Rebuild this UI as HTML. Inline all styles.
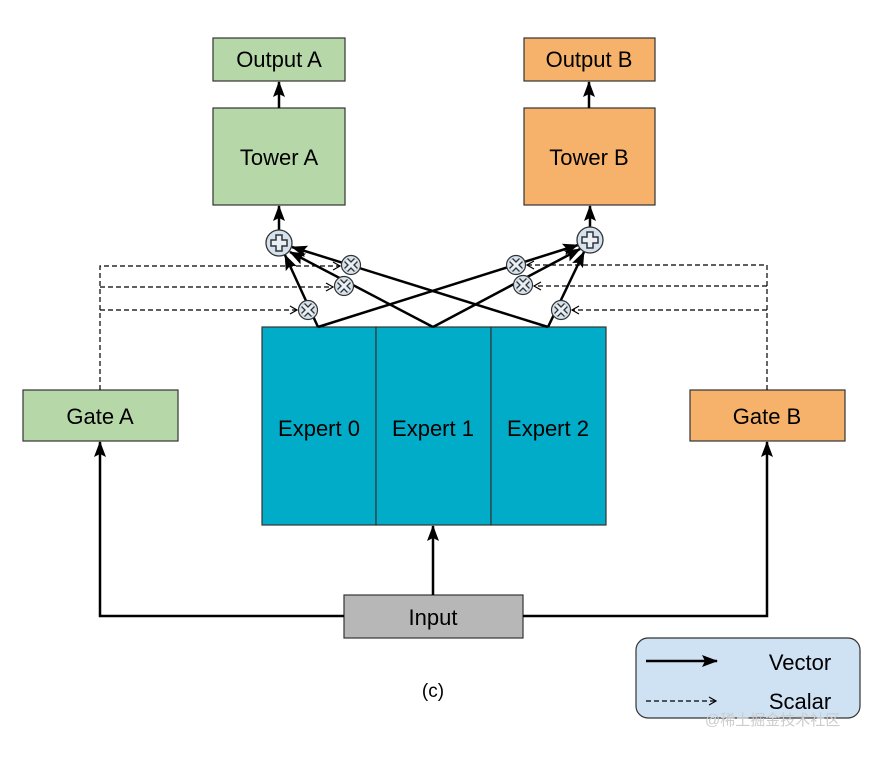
<!DOCTYPE html>
<html><head><style>body{margin:0;background:#fff}</style></head><body>
<svg width="886" height="752" viewBox="0 0 886 752" xmlns="http://www.w3.org/2000/svg" font-family="Liberation Sans, sans-serif">
<defs>
<marker id="a" markerWidth="16" markerHeight="12" refX="15" refY="6" orient="auto" markerUnits="userSpaceOnUse" overflow="visible"><path d="M0,0L16,6L0,12L3,6z" fill="#000"/></marker>
<marker id="d" markerWidth="8" markerHeight="8" refX="7" refY="4" orient="auto" markerUnits="userSpaceOnUse" overflow="visible"><path d="M0,0L7,4L0,8" fill="none" stroke="#000" stroke-width="1.2"/></marker>
<g id="x"><circle r="9.5" fill="#d5e3ef" stroke="#333" stroke-width="1.2"/><path d="M-5,-5L5,5M5,-5L-5,5" stroke="#333" stroke-width="5.5"/><path d="M-5,-5L5,5M5,-5L-5,5" stroke="#e8f0f7" stroke-width="3"/></g>
<g id="p"><circle r="13" fill="#d5e3ef" stroke="#333" stroke-width="1.3"/><path d="M-3,-8h6v5h5v6h-5v5h-6v-5h-5v-6h5z" fill="#e8f0f7" stroke="#333" stroke-width="1.5"/></g>
</defs>
<g stroke="#333" stroke-width="1.2">
<rect x="213" y="38" width="132" height="43" fill="#b6d7a8"/>
<rect x="213" y="108" width="132" height="97" fill="#b6d7a8"/>
<rect x="524" y="38" width="131" height="43" fill="#f6b26b"/>
<rect x="524" y="108" width="131" height="97" fill="#f6b26b"/>
<rect x="23" y="390" width="155" height="51" fill="#b6d7a8"/>
<rect x="690" y="390" width="155" height="51" fill="#f6b26b"/>
<rect x="344" y="595" width="179" height="43" fill="#b7b7b7"/>
<rect x="262" y="327" width="114" height="198" fill="#00acc8"/>
<rect x="376" y="327" width="115" height="198" fill="#00acc8"/>
<rect x="491" y="327" width="115" height="198" fill="#00acc8"/>
<rect x="636" y="638" width="224" height="80" rx="12" fill="#cfe2f3"/>
</g>
<g font-size="22" text-anchor="middle" fill="#000">
<text x="279" y="67">Output A</text><text x="279" y="165">Tower A</text>
<text x="589" y="67">Output B</text><text x="589" y="165">Tower B</text>
<text x="100" y="424">Gate A</text><text x="767" y="424">Gate B</text>
<text x="433" y="625">Input</text>
<text x="319" y="436">Expert 0</text><text x="433" y="436">Expert 1</text><text x="548" y="436">Expert 2</text>
<text x="433" y="697" font-size="19">(c)</text>
<text x="800" y="670">Vector</text><text x="800" y="709">Scalar</text>
</g>
<text x="705" y="725" font-size="15" fill="#ccc" font-family="Liberation Sans, Noto Sans CJK SC, sans-serif">@稀土掘金技术社区</text>
<g stroke="#000" stroke-width="2.5" fill="none">
<path d="M279,108V82" marker-end="url(#a)"/>
<path d="M589,108V82" marker-end="url(#a)"/>
<path d="M279,230V206" marker-end="url(#a)"/>
<path d="M590,227V206" marker-end="url(#a)"/>
<path d="M433,595V526" marker-end="url(#a)"/>
<path d="M344,616H100V442" marker-end="url(#a)"/>
<path d="M523,616H767V442" marker-end="url(#a)"/>
<path d="M646,661H717" marker-end="url(#a)"/>
<path d="M318,327L285,255" marker-end="url(#a)"/>
<path d="M433,327L290,252" marker-end="url(#a)"/>
<path d="M548,327L292,247" marker-end="url(#a)"/>
<path d="M318,327L578,245" marker-end="url(#a)"/>
<path d="M433,327L580,249" marker-end="url(#a)"/>
<path d="M548,327L584,252" marker-end="url(#a)"/>
</g>
<g stroke="#000" stroke-width="1.2" fill="none" stroke-dasharray="5,3">
<path d="M100,390V266H340" marker-end="url(#d)"/>
<path d="M100,287H333" marker-end="url(#d)"/>
<path d="M100,310H297" marker-end="url(#d)"/>
<path d="M767,390V265H527" marker-end="url(#d)"/>
<path d="M767,286H534" marker-end="url(#d)"/>
<path d="M767,310H572" marker-end="url(#d)"/>
<path d="M646,701H716" marker-end="url(#d)"/>
</g>
<use href="#p" x="279" y="243"/><use href="#p" x="590" y="240"/>
<use href="#x" x="351" y="265"/><use href="#x" x="344" y="286"/><use href="#x" x="308" y="310"/>
<use href="#x" x="516" y="265"/><use href="#x" x="523" y="285"/><use href="#x" x="561" y="310"/>
</svg>
</body></html>
